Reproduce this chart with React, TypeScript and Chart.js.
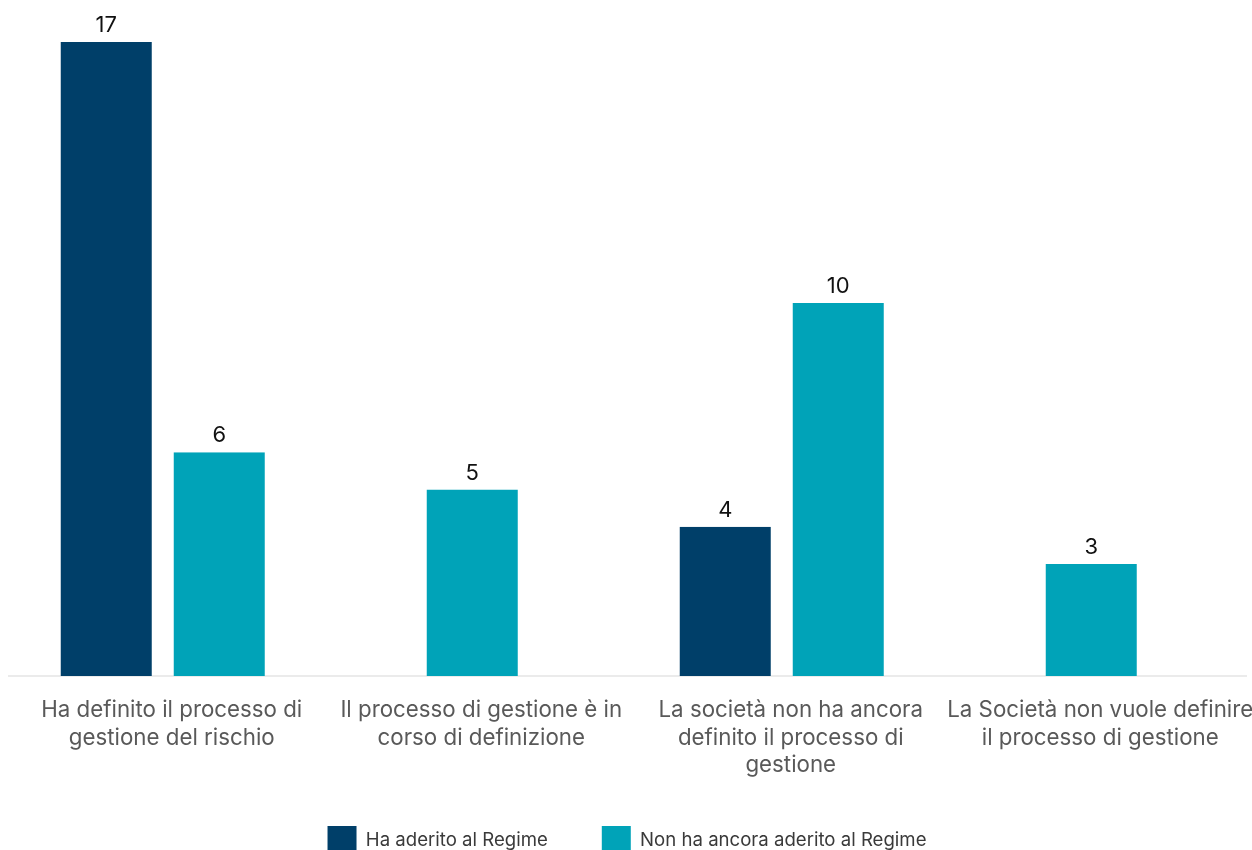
import React, { useEffect, useRef } from "react";
import { Chart, registerables } from "chart.js";

Chart.register(...registerables);

const categories: string[][] = [
  ["Ha definito il processo di", "gestione del rischio"],
  ["Il processo di gestione è in", "corso di definizione"],
  ["La società non ha ancora", "definito il processo di", "gestione"],
  ["La Società non vuole definire", "il processo di gestione"],
];
const seriesNames = ["Ha aderito al Regime", "Non ha ancora aderito al Regime"];
const aderito: (number | null)[] = [17, null, 4, null];
const nonAderito: (number | null)[] = [6, 5, 10, 3];
const colors = ["#003f69", "#00a3b8"];

const FONT = "Inter, 'Noto Sans', sans-serif";

const valueLabels = {
  id: "valueLabels",
  afterDatasetsDraw(chart: any) {
    const ctx = chart.ctx;
    ctx.save();
    ctx.font = `22px ${FONT}`;
    ctx.fillStyle = "#111111";
    ctx.textAlign = "center";
    ctx.textBaseline = "alphabetic";
    chart.data.datasets.forEach((ds: any, di: number) => {
      const meta = chart.getDatasetMeta(di);
      meta.data.forEach((el: any, i: number) => {
        const v = ds.data[i];
        if (v === null || v === undefined) return;
        ctx.fillText(String(v), el.x, el.y - 10);
      });
    });
    ctx.restore();
  },
};

export default function App() {
  const ref = useRef<HTMLCanvasElement | null>(null);
  useEffect(() => {
    if (!ref.current) return;
    const common = {
      barThickness: 113,
      borderWidth: { left: 11, right: 11, top: 0, bottom: 0 },
      borderColor: "rgba(0,0,0,0)",
      borderSkipped: false,
      inflateAmount: 0,
      skipNull: true,
    };
    const chart = new Chart(ref.current, {
      type: "bar",
      data: {
        labels: categories,
        datasets: [
          { label: seriesNames[0], data: aderito, backgroundColor: colors[0], ...common },
          { label: seriesNames[1], data: nonAderito, backgroundColor: colors[1], ...common },
        ],
      } as any,
      options: {
        animation: false,
        responsive: true,
        maintainAspectRatio: false,
        layout: { padding: { top: 34, left: 0, right: 6, bottom: 0 } },
        plugins: {
          legend: {
            position: "bottom",
            title: {
              display: true,
              text: "",
              padding: { top: -10, bottom: 0 },
              font: { size: 1, lineHeight: 0 },
            },
            labels: {
              boxWidth: 29,
              boxHeight: 29,
              padding: 54,
              color: "#3a3a3a",
              font: { family: FONT, size: 18.6 },
            },
          },
          tooltip: { enabled: false },
        },
        scales: {
          x: {
            grid: { display: false, drawTicks: false },
            border: { display: true, color: "#ebebeb", width: 2 },
            ticks: {
              color: "#595959",
              font: { family: FONT, size: 22.3, lineHeight: 1.25 },
              maxRotation: 0,
              autoSkip: false,
              padding: 20,
              labelOffset: 9,
            },
            afterFit: (scale: any) => {
              scale.height = 106;
              scale.paddingLeft = 0;
              scale.paddingRight = 0;
            },
          },
          y: {
            display: false,
            min: 0,
            max: 17,
          },
        },
      } as any,
      plugins: [valueLabels],
    });
    return () => chart.destroy();
  }, []);
  return (
    <div
      style={{
        position: "fixed",
        left: 8,
        top: 8,
        width: 1244,
        height: 842,
        overflow: "hidden",
      }}
    >
      <div style={{ width: 1244, height: 857, position: "relative" }}>
        <canvas ref={ref} />
      </div>
    </div>
  );
}
